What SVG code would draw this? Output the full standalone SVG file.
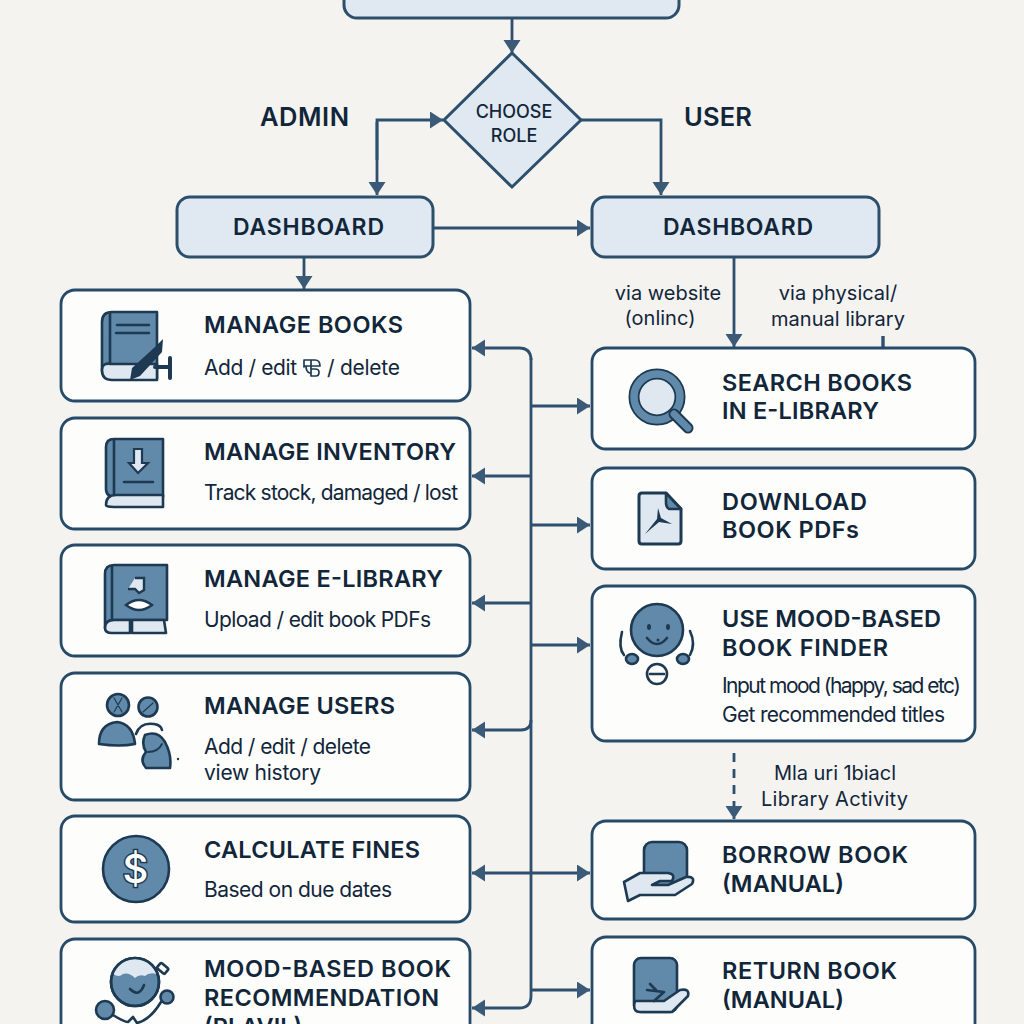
<svg xmlns="http://www.w3.org/2000/svg" width="1024" height="1024" viewBox="0 0 1024 1024">
<style>
text{font-family:Inter,"Noto Sans","Liberation Sans",sans-serif;fill:#12263a}
.t{font-size:23.5px;font-weight:600}
.s{font-size:21px;font-weight:400}
.l{font-size:20px;font-weight:400;text-anchor:middle}
.h{font-size:25.5px;font-weight:600;text-anchor:middle}
.card{fill:#fdfdfc;stroke:#264a68;stroke-width:2.8}
.blue{fill:#e0e9f2;stroke:#2c4f6c;stroke-width:3}
.c{fill:none;stroke:#2f4f6e;stroke-width:2.8}
.i{fill:#6189a9;stroke:#1d3a52;stroke-width:2.6;stroke-linejoin:round}
.p{fill:#dfe8f1;stroke:#1d3a52;stroke-width:2.6;stroke-linejoin:round}
.n{fill:none;stroke:#1d3a52;stroke-width:2.6;stroke-linecap:round;stroke-linejoin:round}
</style>
<defs>
<marker id="a" markerUnits="userSpaceOnUse" markerWidth="14" markerHeight="18" refX="13" refY="8.5" orient="auto"><path d="M0 0L13 8.5L0 17Z" fill="#3a5a78"/></marker>
</defs>
<rect width="1024" height="1024" fill="#f4f3f0"/>
<g id="connectors">
<path class="c" d="M512 18V53" marker-end="url(#a)"/>
<path class="c" d="M377 160V120H443" marker-end="url(#a)"/>
<path class="c" d="M377 122V195" marker-end="url(#a)"/>
<path class="c" d="M581 120H661V195" marker-end="url(#a)"/>
<path class="c" d="M433 228H590" marker-end="url(#a)"/>
<path class="c" d="M304 257V289" marker-end="url(#a)"/>
<path class="c" d="M734 258V347" marker-end="url(#a)"/>
<path class="c" d="M883 336V348" style="stroke-width:3.4"/>
<path class="c" d="M531 358V996"/>
<path class="c" d="M531 360Q531 348 519 348H472" marker-end="url(#a)"/>
<path class="c" d="M531 476H472" marker-end="url(#a)"/>
<path class="c" d="M531 603H472" marker-end="url(#a)"/>
<path class="c" d="M531 720Q531 730 521 730H472" marker-end="url(#a)"/>
<path class="c" d="M531 873H472" marker-end="url(#a)"/>
<path class="c" d="M531 996Q531 1008 519 1008H472" marker-end="url(#a)"/>
<path class="c" d="M531 406H590" marker-end="url(#a)"/>
<path class="c" d="M531 525H590" marker-end="url(#a)"/>
<path class="c" d="M531 645H590" marker-end="url(#a)"/>
<path class="c" d="M531 873H590" marker-end="url(#a)"/>
<path class="c" d="M531 990H590" marker-end="url(#a)"/>
<path class="c" d="M734 753V819" stroke-dasharray="9 7" marker-end="url(#a)"/>
</g>
<g id="start"><rect class="blue" x="344" y="-30" width="335" height="48" rx="13"/></g>
<g id="choose-role"><path class="blue" d="M512 53L581 120L512 187L444 120Z"/>
<text x="514" y="118" font-size="18" font-weight="500" text-anchor="middle">CHOOSE</text>
<text x="514" y="142" font-size="18" font-weight="500" text-anchor="middle">ROLE</text></g>
<text class="h" x="304.500" y="126" textLength="89">ADMIN</text>
<text class="h" x="718" y="126" textLength="68">USER</text>
<g id="admin-dashboard"><rect class="blue" x="177" y="197" width="256" height="60" rx="13"/><text class="h" x="308.500" y="235" style="font-size:23px" textLength="151">DASHBOARD</text></g>
<g id="user-dashboard"><rect class="blue" x="592" y="197" width="287" height="60" rx="13"/><text class="h" x="738" y="235" style="font-size:23px" textLength="150">DASHBOARD</text></g>
<text class="l" x="668" y="300">via website</text><text class="l" x="660" y="325">(onlinc)</text>
<text class="l" x="838" y="300">via physical/</text><text class="l" x="838" y="326">manual library</text>

<g id="manage-books"><rect class="card" x="61" y="290" width="409" height="111" rx="14"/>
<path class="i" d="M112 312H157V378H112Q102 378 102 370V322Q102 312 112 312Z"/><path class="p" d="M102 370Q102 362 112 364H157V380H112Q102 380 102 370Z"/><path class="n" d="M110 313V364M117 325H149M116 333H149"/>
<path d="M163 339L162 352L140 376L130 380L132 368L155 347Z" fill="#1d3a52"/><path class="n" d="M155 367H169M170 358V378" style="stroke-width:4"/>
<text class="t" x="204" y="333" textLength="199">MANAGE BOOKS</text>
<text class="s" x="204" y="375" textLength="93">Add / edit</text><path class="n" style="stroke-width:1.7" d="M304 367V360H315Q320 360 320 366M304 366H320M311 360V376H316Q319 376 319 372Q319 369 315 369H311M306 366Q306 372 310 373"/><text class="s" x="327" y="375" textLength="73">/ delete</text></g>

<g id="manage-inventory"><rect class="card" x="61" y="418" width="409" height="111" rx="14"/>
<path class="i" d="M114 439H163V497H116Q106 497 106 489V447Q106 439 114 439Z"/><path class="p" d="M106 505Q106 495 116 495H163V507H114Q106 507 106 505Z"/><path class="n" d="M114 440V495M124 482H153"/><path d="M134 449H142V463H148L138 473L129 463H134Z" fill="#dfe8f1" stroke="#1d3a52" stroke-width="2.2"/>
<text class="t" x="204" y="460" textLength="252">MANAGE INVENTORY</text>
<text class="s" x="204" y="500" textLength="254">Track stock, damaged / lost</text></g>

<g id="manage-elibrary"><rect class="card" x="61" y="545" width="409" height="111" rx="14"/>
<path class="i" d="M114 565H167V620H114Q105 620 105 628V574Q105 565 114 565Z"/><path class="p" d="M105 628Q105 620 114 620H130V633H112Q105 633 105 628ZM132 620H164L166 633H132Z"/><path class="n" d="M112 566V620"/>
<path d="M135 578H144V590L139 593L135 589H128" fill="#dfe8f1" stroke="#1d3a52" stroke-width="2.4"/><path d="M126 605Q139 595 152 605Q139 615 126 605Z" fill="#fff" stroke="#1d3a52" stroke-width="2.4"/>
<text class="t" x="204" y="587" textLength="239">MANAGE E-LIBRARY</text>
<text class="s" x="204" y="627" textLength="227">Upload / edit book PDFs</text></g>

<g id="manage-users"><rect class="card" x="61" y="673" width="409" height="127" rx="14"/>
<circle class="i" cx="118" cy="705" r="11"/><circle class="i" cx="148" cy="707" r="9.500"/><path class="n" style="stroke-width:1.2" d="M114 698L122 712M122 698L114 712M143 712L153 703"/>
<path class="i" d="M99 744Q99 724 117 722Q133 724 135 744Q120 747 99 744Z"/><path class="n" d="M136 734Q140 722 154 724Q161 725 162 730"/>
<path class="i" d="M145 735Q158 730 165 742Q172 755 170 768H146Q139 760 146 752Q141 744 145 735Z"/><path class="n" style="stroke-width:1.800" d="M148 752Q158 752 162 744"/><circle cx="178" cy="759" r="1.200" fill="#1d3a52"/>
<text class="t" x="204" y="714" textLength="191">MANAGE USERS</text>
<text class="s" x="204" y="754" textLength="167">Add / edit / delete</text><text class="s" x="204" y="780" textLength="117">view history</text></g>

<g id="calculate-fines"><rect class="card" x="61" y="816" width="409" height="106" rx="14"/>
<circle class="i" cx="136" cy="869" r="33"/><text x="135.500" y="883" font-size="40" font-weight="500" text-anchor="middle" style="fill:#fff;stroke:#1d3a52;stroke-width:3;paint-order:stroke">$</text>
<text class="t" x="204" y="858" textLength="216">CALCULATE FINES</text>
<text class="s" x="204" y="897" textLength="188">Based on due dates</text></g>

<g id="mood-recommendation"><rect class="card" x="61" y="939" width="409" height="110" rx="14"/>
<circle class="i" cx="135" cy="982" r="24"/><path class="p" style="stroke:none" d="M113 974Q120 959 135 959Q151 959 157 974Q149 972 145 976Q139 974 135 978Q129 972 123 974Q119 978 113 974Z"/><circle class="n" cx="135" cy="982" r="24"/><path class="n" d="M130 989Q139 998 144 985"/><rect class="n" x="158" y="965" width="10" height="7" rx="1.500" transform="rotate(40 163 968)"/>
<circle class="i" cx="105" cy="1010" r="9"/><circle class="i" cx="167" cy="997" r="6.500"/><path class="n" d="M113 1015Q124 1022 128 1022L133 1017L137 1023Q150 1020 161 1002"/>
<text class="t" x="204" y="977" textLength="247">MOOD-BASED BOOK</text><text class="t" x="204" y="1006" textLength="235">RECOMMENDATION</text><text class="t" x="204" y="1035">(PLAVIL)</text></g>

<g id="search-books"><rect class="card" x="592" y="348" width="383" height="101" rx="14"/>
<circle cx="657" cy="397" r="23" fill="#dfe8f1" stroke="#1d3a52" stroke-width="11"/><circle cx="657" cy="397" r="23" fill="none" stroke="#6189a9" stroke-width="7.500"/>
<path d="M674 414L688 428" stroke="#1d3a52" stroke-width="11" stroke-linecap="round"/><path d="M674 414L688 428" stroke="#6189a9" stroke-width="7" stroke-linecap="round"/>
<text class="t" x="722" y="391" textLength="190">SEARCH BOOKS</text><text class="t" x="722" y="419" textLength="157">IN E-LIBRARY</text></g>

<g id="download-pdfs"><rect class="card" x="592" y="468" width="383" height="101" rx="14"/>
<path class="p" style="stroke-width:3" d="M642 493H666L681 509V541Q681 544 678 544H642Q639 544 639 541V496Q639 493 642 493Z"/><path class="i" d="M666 493L681 509H669Q666 507 666 503Z"/><path d="M658 508L661 518L672 524L659 522L645 534L657 519Z" fill="#1d3a52"/>
<text class="t" x="722" y="510" textLength="145">DOWNLOAD</text><text class="t" x="722" y="538" textLength="137">BOOK PDFs</text></g>

<g id="mood-finder"><rect class="card" x="592" y="586" width="383" height="155" rx="14"/>
<circle class="i" cx="657" cy="630" r="26"/><ellipse cx="649" cy="627" rx="2" ry="3" fill="#1d3a52"/><ellipse cx="668" cy="627" rx="2" ry="3" fill="#1d3a52"/><path class="n" d="M647 638Q657 650 667 638"/><circle cx="658" cy="640" r="1.500" fill="#1d3a52"/><path d="M622 632Q618 648 624 655M690 631Q696 644 690 655" class="n"/>
<ellipse class="i" cx="632" cy="659" rx="6" ry="5"/><ellipse class="i" cx="683" cy="659" rx="6" ry="5"/><circle class="n" cx="657" cy="674" r="10"/><path class="n" d="M650 674H664"/>
<text class="t" x="722" y="627" textLength="219">USE MOOD-BASED</text><text class="t" x="722" y="656" textLength="166">BOOK FINDER</text>
<text class="s" x="722" y="693" textLength="239">Input mood (happy, sad etc)</text><text class="s" x="722" y="722" textLength="223">Get recommended titles</text></g>

<text class="l" x="835" y="780" textLength="122">Mla uri 1biacl</text><text class="l" x="834.500" y="806" textLength="147">Library Activity</text>

<g id="borrow-book"><rect class="card" x="592" y="821" width="383" height="98" rx="14"/>
<rect class="i" x="644" y="842" width="43" height="46" rx="8"/><path class="p" d="M624 882L640 873H668Q676 874 672 881H660L652 885H668L686 877Q696 876 692 884L675 895H640L628 901Z"/>
<text class="t" x="722" y="863" textLength="186">BORROW BOOK</text><text class="t" x="722" y="892" textLength="122">(MANUAL)</text></g>

<g id="return-book"><rect class="card" x="592" y="937" width="383" height="110" rx="14"/>
<rect class="i" x="634" y="958" width="43" height="54" rx="7"/><path class="p" d="M635 1001H664L680 990Q690 988 688 996L672 1012H640Q632 1012 635 1001Z"/><path class="n" d="M647 990L664 992L654 1001M650 984L656 990"/>
<text class="t" x="722" y="979" textLength="175">RETURN BOOK</text><text class="t" x="722" y="1008" textLength="122">(MANUAL)</text></g>
</svg>
